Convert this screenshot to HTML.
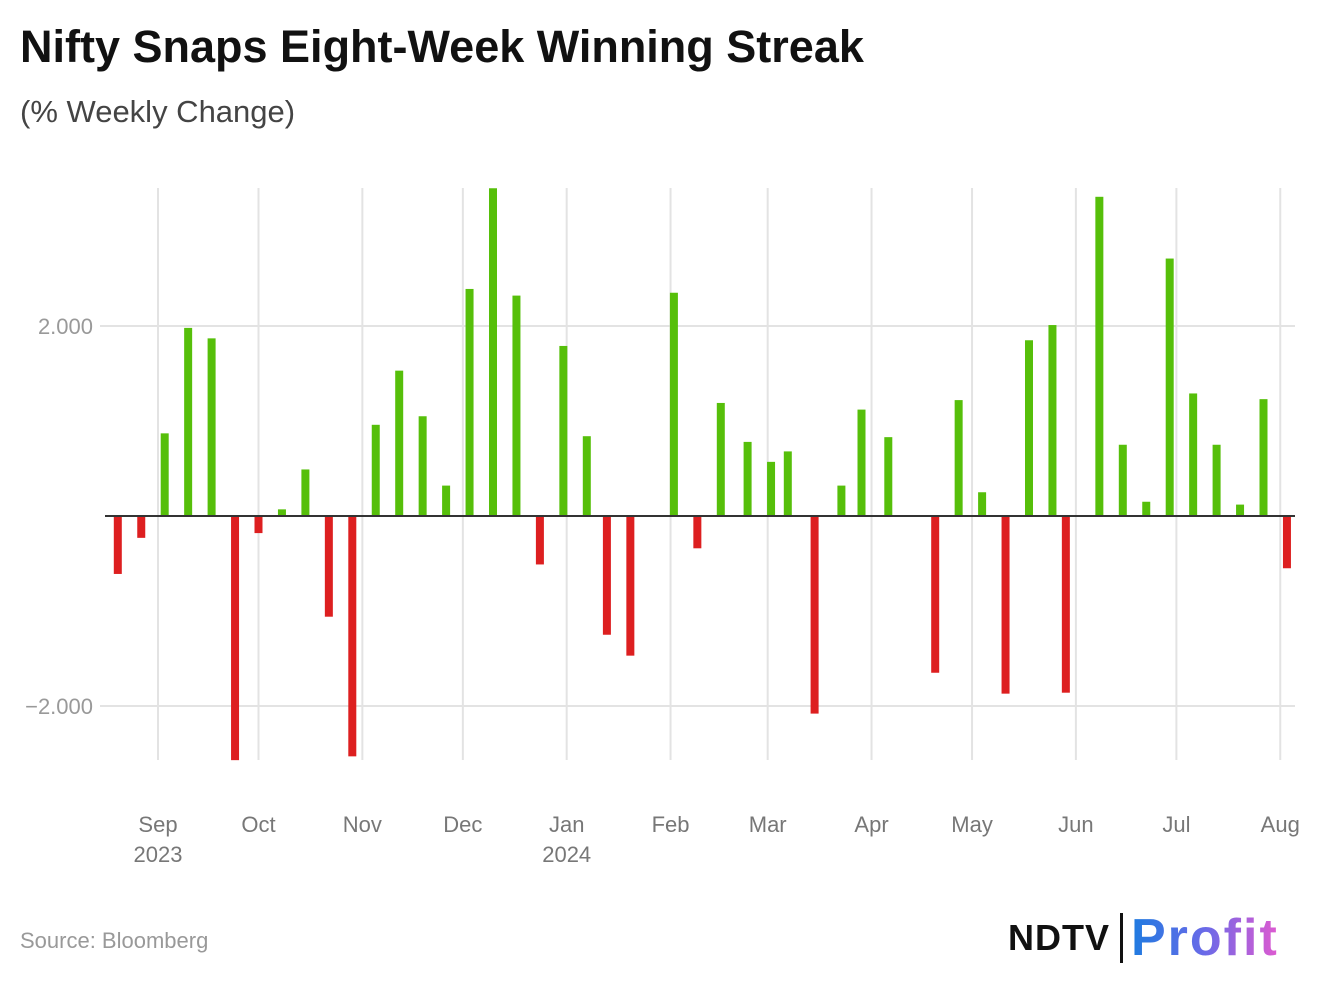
<!DOCTYPE html>
<html><head><meta charset="utf-8">
<style>
body{margin:0;background:#fff;font-family:"Liberation Sans",sans-serif;}
#wrap{position:relative;width:1320px;height:990px;overflow:hidden;}
h1{position:absolute;left:20px;top:21px;margin:0;font-size:45px;font-weight:bold;color:#111;letter-spacing:0px;}
.sub{position:absolute;left:20px;top:94px;font-size:31px;color:#444;}
.src{position:absolute;left:20px;top:928px;font-size:22px;color:#999;}
</style></head>
<body>
<div id="wrap">
<h1>Nifty Snaps Eight-Week Winning Streak</h1>
<div class="sub">(% Weekly Change)</div>
<svg id="chart" width="1320" height="990" style="position:absolute;left:0;top:0"></svg>
<div class="src">Source: Bloomberg</div>
<div style="position:absolute;left:1008px;top:912px;height:52px;display:flex;align-items:center;">
  <span style="font-size:36px;font-weight:900;color:#111;letter-spacing:1px;font-family:'Liberation Sans',sans-serif;">NDTV</span>
  <span style="display:inline-block;width:3px;height:50px;background:#111;margin:0 8px 0 10px;"></span>
  <span style="font-size:52px;font-weight:bold;letter-spacing:2px;background:linear-gradient(90deg,#1e7be0,#6a6ae8,#e05ad0);-webkit-background-clip:text;background-clip:text;color:transparent;">Profit</span>
</div>
</div>
<script>
const days = [-12,-5,2,9,16,23,30,37,44,51,58,65,72,79,86,93,100,107,114,121,128,134,141,154,161,168,176,183,188,196,204,210,218,232,239,246,253,260,267,271,281,288,295,302,309,316,323,330,337];
const values = [-0.61,-0.23,0.87,1.98,1.87,-2.57,-0.18,0.07,0.49,-1.06,-2.53,0.96,1.53,1.05,0.32,2.39,3.45,2.32,-0.51,1.79,0.84,-1.25,-1.47,2.35,-0.34,1.19,0.78,0.57,0.68,-2.08,0.32,1.12,0.83,-1.65,1.22,0.25,-1.87,1.85,2.01,-1.86,3.36,0.75,0.15,2.71,1.29,0.75,0.12,1.23,-0.55];
const monthLabels = ["Sep","Oct","Nov","Dec","Jan","Feb","Mar","Apr","May","Jun","Jul","Aug"];
const monthDays = [0,30,61,91,122,153,182,213,243,274,304,335];
const yearLabels = {"Sep":"2023","Jan":"2024"};
const yTicks = [2,-2];
const yTickLabels = ["2.000","\u22122.000"];

const NS="http://www.w3.org/2000/svg";
const svg=document.getElementById('chart');
const x=d=>158+d*3.35;
const y=v=>516-v*95;
function mk(t,a){const e=document.createElementNS(NS,t);for(const k in a)e.setAttribute(k,a[k]);svg.appendChild(e);return e;}

yTicks.forEach((t,i)=>{
  const l=mk('line',{x1:100,x2:1295,y1:y(t),y2:y(t),stroke:'#e3e3e3','stroke-width':2});
  
  
  const tx=mk('text',{x:93,y:y(t)+8,'text-anchor':'end','font-size':22,fill:'#999','font-family':'Liberation Sans, sans-serif'});
  tx.textContent=yTickLabels[i];
  
  
});
monthLabels.forEach((m,i)=>{
  const xx=x(monthDays[i]);
  const l=mk('line',{x1:xx,x2:xx,y1:188,y2:760,stroke:'#e3e3e3','stroke-width':2});
  
  
  const t=mk('text',{x:xx,y:832,'text-anchor':'middle','font-size':22,fill:'#777','font-family':'Liberation Sans, sans-serif'});
  t.textContent=m;
  
  
  if(yearLabels[m]){
    const t2=mk('text',{x:xx,y:862,'text-anchor':'middle','font-size':22,fill:'#777','font-family':'Liberation Sans, sans-serif'});
    t2.textContent=yearLabels[m];
    
    
  }
});
values.forEach((v,i)=>{
  const cx=x(days[i]);
  const top=Math.min(y(v),y(0)),h=Math.abs(y(v)-y(0));
  const r=mk('rect',{x:cx-4,y:top,width:8,height:h,fill:v>=0?'#56bf0a':'#dd1f20'});
  
  
});
const z=mk('line',{x1:105,x2:1295,y1:y(0),y2:y(0),stroke:'#333','stroke-width':2});


</script>
</body></html>
